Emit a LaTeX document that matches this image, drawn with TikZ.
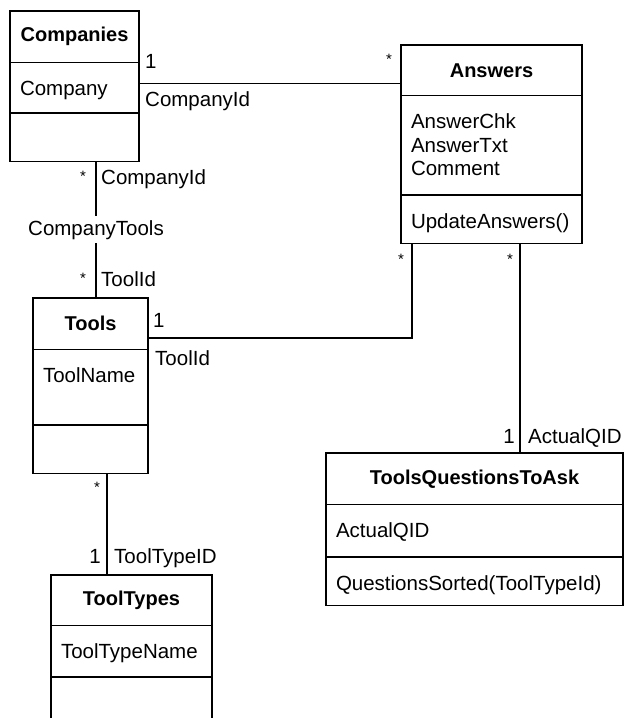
\documentclass[tikz,border=0pt]{standalone}
\usepackage{fontspec}
\setmainfont{Liberation Sans}
\usepackage{tikz}
\usetikzlibrary{positioning}
\usetikzlibrary{shapes.multipart}

\newcommand{\classhead}[3]{\parbox[c][#1][c]{#2}{\centering\fontsize{20}{23}\selectfont\bfseries #3}}
\newcommand{\classpart}[3]{\parbox[c][#1][t]{#2}{\raggedright\leftskip=10pt\rule{0pt}{32.5pt}#3}}

\tikzset{
	umlclass/.style={draw, line width=1.5pt, rectangle split, rectangle split parts=3,
		inner sep=0pt, outer sep=0pt, anchor=north west, font=\fontsize{20.5}{23.5}\selectfont},
	assoc/.style={draw, line width=1.5pt},
	rolename/.style={inner sep=0pt, font=\fontsize{20.5}{23.5}\selectfont},
	multstar/.style={inner sep=0pt, anchor=base, font=\fontsize{15}{15}\selectfont},
}

\begin{document}
\begin{tikzpicture}[x=1pt, y=-1pt]

	\path[use as bounding box, fill=white] (0,0) rectangle (627,718);

	%Classes
	\node[umlclass] (comp) at (10,11) {\classhead{50pt}{129pt}{Companies}%
		\nodepart{two}\classpart{49pt}{129pt}{Company}%
		\nodepart{three}\classpart{47pt}{129pt}{}};

	\node[umlclass] (ans) at (401,45) {\classhead{49pt}{181pt}{Answers}%
		\nodepart{two}\classpart{98pt}{181pt}{AnswerChk\\AnswerTxt\\Comment}%
		\nodepart{three}\classpart{47pt}{181pt}{UpdateAnswers()}};

	\node[umlclass] (tools) at (33,298) {\classhead{50pt}{115pt}{Tools}%
		\nodepart{two}\classpart{74pt}{115pt}{ToolName}%
		\nodepart{three}\classpart{47pt}{115pt}{}};

	\node[umlclass] (tqa) at (326,453) {\classhead{50pt}{297pt}{ToolsQuestionsToAsk}%
		\nodepart{two}\classpart{51pt}{297pt}{ActualQID}%
		\nodepart{three}\classpart{47pt}{297pt}{QuestionsSorted(ToolTypeId)}};

	\node[umlclass] (ttypes) at (51,575) {\classhead{49pt}{161pt}{ToolTypes}%
		\nodepart{two}\classpart{50pt}{161pt}{ToolTypeName}%
		\nodepart{three}\classpart{56pt}{161pt}{}};

	%Association class name
	\node[rolename, inner sep=4pt, anchor=base] (ct) at (96,235) {CompanyTools};

	%Associations
	\draw[assoc] ([yshift=3pt]comp.east) -- ([yshift=3pt]comp.east -| ans.west);
	\draw[assoc] (ct) -- (ct |- comp.south);
	\draw[assoc] (ct) -- (ct |- tools.north);
	\draw[assoc] ([yshift=-40pt]tools.north east) -| ([xshift=11pt]ans.south west);
	\draw[assoc] ([xshift=119pt]ans.south west) -- ([xshift=119pt]ans.south west |- tqa.north);
	\draw[assoc] ([xshift=74pt]tools.south west) -- ([xshift=74pt]tools.south west |- ttypes.north);

	%Role names and multiplicities
	\node[rolename, anchor=base west] (compone) at (145,68) {1};
	\node[rolename, anchor=base west] (compid) at (145,106) {CompanyId};
	\node[multstar] (ansmany) at (389,64) {*};

	\node[multstar] (ctcompmany) at (83,181) {*};
	\node[rolename, anchor=base west] (ctcompid) at (101,184) {CompanyId};
	\node[multstar] (cttoolmany) at (83,283) {*};
	\node[rolename, anchor=base west] (cttoolid) at (101,286) {ToolId};

	\node[rolename, anchor=base west] (toolone) at (153,327) {1};
	\node[rolename, anchor=base west] (toolid) at (155,365) {ToolId};
	\node[multstar] (anstoolmany) at (401,264) {*};

	\node[multstar] (ansqmany) at (510,264) {*};
	\node[rolename, anchor=base east] (qone) at (515,443) {1};
	\node[rolename, anchor=base west] (qid) at (528,443) {ActualQID};

	\node[multstar] (typemany) at (97,492) {*};
	\node[rolename, anchor=base east] (typeone) at (101,563) {1};
	\node[rolename, anchor=base west] (typeid) at (114,563) {ToolTypeID};

\end{tikzpicture}
\end{document}
